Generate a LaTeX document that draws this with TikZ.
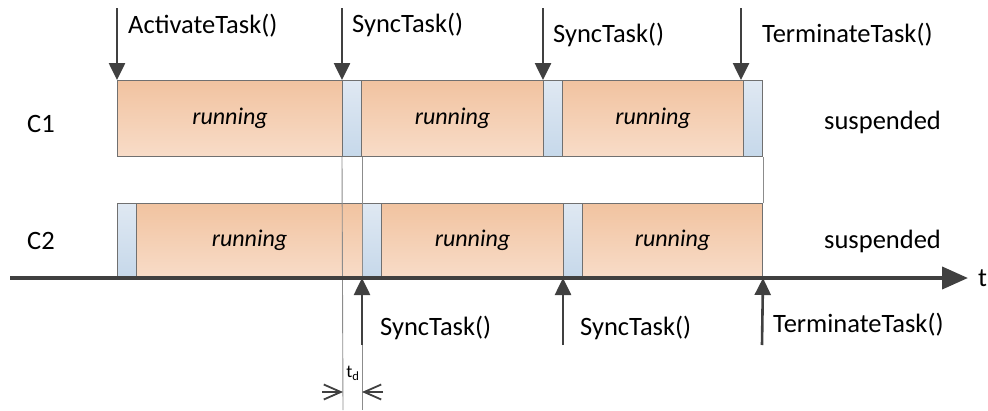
\documentclass[tikz,border=0pt]{standalone}
\usepackage{fontspec}
\setmainfont{Carlito}
\usetikzlibrary{arrows.meta}
\definecolor{runtop}{HTML}{F1C3A0}
\definecolor{runbot}{HTML}{F8DCC8}
\definecolor{swtop}{HTML}{DFE8F2}
\definecolor{swbot}{HTML}{C6D8EA}
\definecolor{boxline}{HTML}{707070}
\definecolor{evcol}{HTML}{404040}
\definecolor{guide}{HTML}{8C8C8C}
\tikzset{
  run/.style={draw=boxline, line width=1pt, top color=runtop, bottom color=runbot,
    inner sep=0pt, anchor=north west, font=\fontsize{24}{28}\selectfont\itshape},
  sw/.style={draw=boxline, line width=1pt, top color=swtop, bottom color=swbot,
    inner sep=0pt, anchor=north west, minimum width=19pt},
  row1/.style={minimum height=76pt},
  row2/.style={minimum height=74pt},
  ev/.style={draw=evcol, line width=2.6pt, -{Triangle[length=17pt,width=16pt]}},
  axis/.style={draw=evcol, line width=4pt, -{Triangle[length=26pt,width=22pt]}},
  guideline/.style={draw=guide, line width=0.9pt},
  dimarrow/.style={draw=evcol, line width=1.8pt, -{Straight Barb[length=17pt,width=15pt,line width=1.8pt]}},
  lbl/.style={font=\fontsize{26.5}{30}\selectfont, text=black, inner sep=0pt, anchor=west},
}
\begin{document}
\begin{tikzpicture}[x=1pt,y=-1pt]
\useasboundingbox (0,0) rectangle (988,410);

% task C1
\node[run,row1,minimum width=225pt] (r11) at (117,80) {running};
\node[sw,row1] (s11) at (342,80) {};
\node[run,row1,minimum width=182pt] (r12) at (361,80) {running};
\node[sw,row1] (s12) at (543,80) {};
\node[run,row1,minimum width=181pt] (r13) at (562,80) {running};
\node[sw,row1] (s13) at (743,80) {};

% task C2
\node[sw,row2] (s21) at (117,203) {};
\node[run,row2,minimum width=226pt] (r21) at (136,203) {running};
\node[sw,row2] (s22) at (362,203) {};
\node[run,row2,minimum width=182pt] (r22) at (381,203) {running};
\node[sw,row2] (s23) at (563,203) {};
\node[run,row2,minimum width=180pt] (r23) at (582,203) {running};

% guide lines for the delay
\coordinate (g1) at (343,410);
\coordinate (g2) at (362,410);
\draw[guideline] (s11.south west) -- (g1);
\draw[guideline] (s11.south east) -- (g2);
\draw[guideline] (s13.south east) -- (r23.north east);

% time axis
\coordinate (t0) at (10,278);
\coordinate (t1) at (968,278);
\draw[axis] (t0) -- (t1);
\node[lbl] (tl) at (978,278) {t};

% row labels
\node[lbl] (c1) at (27,124) {C1};
\node[lbl] (c2) at (27,241) {C2};
\node[lbl] (su1) at (824,122) {suspended};
\node[lbl] (su2) at (824,241) {suspended};

% calls issued by C1
\coordinate (a1) at (117,8);
\coordinate (a2) at (342,8);
\coordinate (a3) at (543,8);
\coordinate (a4) at (741,8);
\draw[ev] (a1) -- (r11.north west);
\draw[ev] (a2) -- (s11.north west);
\draw[ev] (a3) -- (s12.north west);
\draw[ev] (a4) -- (741,80);
\node[lbl] (la1) at (128,26) {ActivateTask()};
\node[lbl] (la2) at (352,25) {SyncTask()};
\node[lbl] (la3) at (553,35) {SyncTask()};
\node[lbl] (la4) at (762,35) {TerminateTask()};

% calls issued by C2
\coordinate (b1) at (362,345);
\coordinate (b2) at (563,345);
\coordinate (b3) at (762,345);
\draw[ev] (b1) -- (s22.south west);
\draw[ev] (b2) -- (s23.south west);
\draw[ev] (b3) -- (r23.south east);
\node[lbl] (lb1) at (380,328) {SyncTask()};
\node[lbl] (lb2) at (580,328) {SyncTask()};
\node[lbl] (lb3) at (773,325) {TerminateTask()};

% delay t_d
\coordinate (d0) at (322,392);
\coordinate (d1) at (343,392);
\coordinate (d2) at (362,392);
\coordinate (d3) at (383,392);
\draw[dimarrow] (d0) -- (d1);
\draw[dimarrow] (d3) -- (d2);
\node[font=\fontsize{18}{20}\selectfont, inner sep=0pt] (td) at (353,373) {t\textsubscript{d}};
\end{tikzpicture}
\end{document}
